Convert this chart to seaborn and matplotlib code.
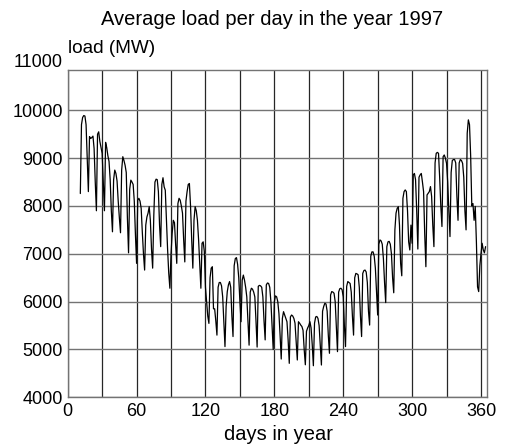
import numpy as np
import pandas as pd
import matplotlib
matplotlib.use("Agg")
import matplotlib.pyplot as plt
import seaborn as sns

# Daily average load (MW), 1997; day index counted from 1 January = 0
first_day = 11
jan = [8260, 9700, 9850, 9890, 9880, 9700, 9000, 8300, 9450, 9410,
       9430, 9460, 9200, 8500, 7900, 9500, 9550, 9350, 9220, 9100]
feb = [8500, 7900, 9330, 9220, 9050, 8930, 8550, 7900, 7460, 8550,
       8750, 8680, 8520, 8100, 7750, 7440, 8750, 9030, 8950, 8850,
       8700, 7750, 7020, 8350, 8540, 8500, 8450, 8100]
mar = [7400, 6800, 8120, 8160, 8100, 7950, 7450, 7000, 6660, 7600,
       7770, 7850, 7985, 7700, 7100, 6700, 7800, 8500, 8560, 8550,
       8300, 7600, 7150, 8450, 8590, 8400, 8330, 7700, 7100, 6600,
       6280]
apr = [7000, 7430, 7700, 7650, 7200, 6800, 8050, 8160, 8120, 8000,
       7850, 7300, 6830, 8100, 8300, 8450, 8470, 8000, 7300, 6700,
       7700, 7985, 7900, 7700, 7300, 6800, 6280, 7220, 7250, 7050]
may = [6300, 6000, 5700, 5545, 6500, 6700, 6730, 5850, 5850, 5600,
       5300, 6300, 6400, 6400, 6330, 6100, 5600, 5060, 5900, 6210,
       6350, 6420, 6300, 5700, 5270, 6750, 6900, 6920, 6780, 6500,
       6000]
jun = [5580, 6450, 6555, 6450, 6300, 6100, 5600, 5090, 6200, 6280,
       6260, 6200, 6100, 5600, 5050, 6320, 6340, 6330, 6300, 6100,
       5600, 5200, 6350, 6390, 6380, 6300, 6000, 5500, 5000, 6000]
jul = [6120, 6100, 6000, 5750, 5300, 4800, 5650, 5790, 5720, 5650,
       5580, 5200, 4710, 5680, 5720, 5700, 5650, 5550, 5150, 4780,
       5580, 5550, 5510, 5480, 5400, 5000, 4680, 5380, 5450, 5500,
       5580]
aug = [5450, 5100, 4660, 5550, 5680, 5690, 5650, 5500, 5100, 4675,
       5800, 5900, 5965, 5950, 5800, 5300, 4920, 6140, 6210, 6200,
       6175, 6000, 5500, 4955, 6200, 6270, 6280, 6250, 6100, 5500,
       5060]
sep = [6320, 6420, 6400, 6380, 6200, 5700, 5300, 6500, 6590, 6580,
       6560, 6300, 5700, 5270, 6590, 6650, 6660, 6620, 6400, 5800,
       5510, 6950, 7040, 7040, 6950, 6700, 6200, 5720, 7200, 7290]
oct_ = [7270, 7200, 6900, 6400, 5980, 7150, 7250, 7260, 7200, 7000,
        6500, 6185, 7500, 7850, 7950, 7985, 7600, 6800, 6540, 8160,
        8300, 8335, 8300, 7900, 7250, 7080, 7600, 7220, 8650, 8680,
        8550]
nov = [7900, 7100, 8600, 8650, 8680, 8500, 8300, 7400, 6730, 8230,
       8265, 8300, 8405, 8200, 7600, 7150, 8900, 9100, 9120, 9100,
       8600, 8000, 7570, 9030, 9066, 9000, 8890, 8500, 7900, 7360]
dec = [8700, 8950, 8970, 8970, 8900, 8200, 7700, 8900, 8970, 8950,
       8890, 8600, 7900, 7500, 9520, 9800, 9700, 9050, 8000, 8050,
       7700, 7990, 7250, 6310, 6210, 6750, 7000, 7220, 7080, 7020,
       7150]

x_ticks = list(range(0, 361, 30))
x_labels = [str(v) if v % 60 == 0 else "" for v in x_ticks]
y_ticks = list(range(4000, 10001, 1000))

load = jan + feb + mar + apr + may + jun + jul + aug + sep + oct_ + nov + dec
days = np.arange(first_day, first_day + len(load))
df = pd.DataFrame({"day": days, "load": load})

sns.set_theme(style="white")
plt.rcParams["font.family"] = ["Liberation Sans", "DejaVu Sans"]
plt.rcParams["text.color"] = "black"

W, H = 505, 445
fig = plt.figure(figsize=(W / 100, H / 100), dpi=100)
left, right, top, bottom = 67.7, 487.3, 70.3, 397.3
ax = fig.add_axes([left / W, 1 - bottom / H, (right - left) / W, (bottom - top) / H])

sns.lineplot(data=df, x="day", y="load", ax=ax, color="black", linewidth=0.9)

ax.set_xlim(0, 365.5)
ax.set_ylim(4000, 10836)
ax.set_xticks(x_ticks)
ax.set_xticklabels(x_labels)
ax.set_yticks(y_ticks)
ax.tick_params(length=0, labelsize=13, labelcolor="black")
ax.tick_params(axis="x", pad=4)
ax.tick_params(axis="y", pad=3.5)
ax.set_xlabel("")
ax.set_ylabel("")

ax.xaxis.grid(True, color="0.15", linewidth=0.9)
ax.yaxis.grid(True, color="0.45", linewidth=1.0)
ax.set_axisbelow(True)
for s in ax.spines.values():
    s.set_color("0.45")
    s.set_linewidth(1.0)

# top label sits above the frame
ax.text(-0.0125, 11000, "11000", transform=ax.get_yaxis_transform(),
        ha="right", va="center", fontsize=13, color="black", clip_on=False)

fig.text(272 / W, 1 - 25 / H, "Average load per day in the year 1997",
         ha="center", va="baseline", fontsize=14.5)
fig.text(68 / W, 1 - 53 / H, "load (MW)", ha="left", va="baseline", fontsize=13.7)
fig.text(278 / W, 1 - 440 / H, "days in year", ha="center", va="baseline", fontsize=14.5)

fig.savefig("out.png", dpi=100)
